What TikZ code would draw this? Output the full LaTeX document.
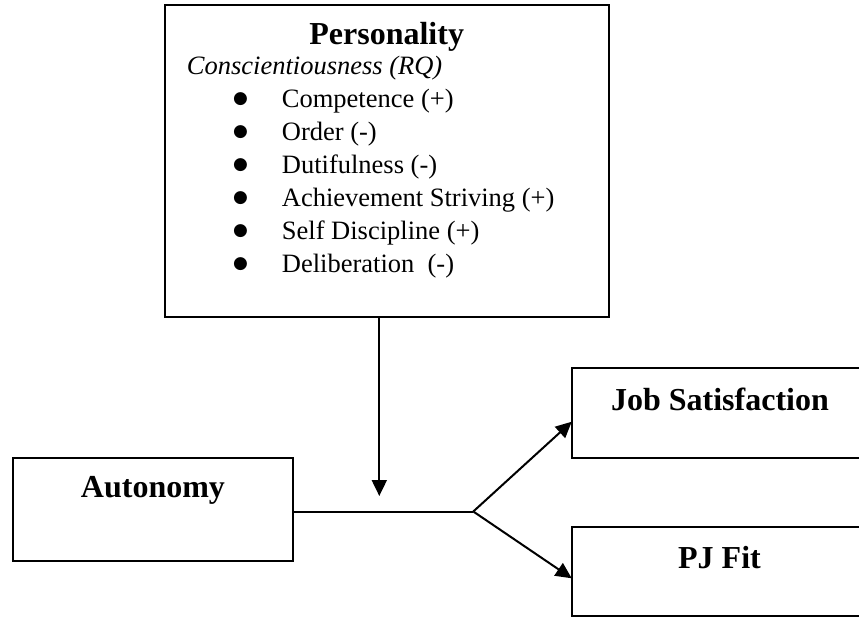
\documentclass[tikz,border=0pt]{standalone}
\usepackage{fontspec}
\setmainfont{Liberation Serif}
\newfontfamily\bulletfont{DejaVu Sans}
\usetikzlibrary{arrows.meta}
\begin{document}
\begin{tikzpicture}[x=1pt,y=-1pt,
  box/.style={draw, line width=2pt, inner sep=0pt, outer sep=0pt},
  conn/.style={line width=2pt},
  arr/.style={line width=2pt, -{Triangle[length=16pt,width=15pt]}},
  titletext/.style={inner sep=0pt, anchor=base, font=\fontsize{32}{38}\selectfont\bfseries},
  bodytext/.style={inner sep=0pt, anchor=base west, font=\fontsize{26.5}{33}\selectfont},
  bullettext/.style={inner sep=0pt, anchor=base, font=\bulletfont\fontsize{17}{20}\selectfont}
]
\useasboundingbox (0,0) rectangle (859,617);
\clip (0,0) rectangle (859,617);

% boxes
\node[box, minimum width=444pt, minimum height=312pt] (pers) at (386.7,160.7) {};
\node[box, minimum width=279.4pt, minimum height=103pt] (auto) at (153,509.2) {};
\node[box, minimum width=296.3pt, minimum height=89.4pt] (js) at (719.9,413) {};
\node[box, minimum width=296.3pt, minimum height=89pt] (pj) at (719.9,571.5) {};

% texts
\node[titletext] (perst) at (386.7,45) {Personality};
\node[bodytext, font=\fontsize{26.5}{33}\selectfont\itshape] (consc) at (186.7,75) {Conscientiousness (RQ)};
\foreach \i/\t [count=\k] in {108/Competence (+), 141/Order (-), 174/Dutifulness (-), 207/Achievement Striving (+), 240/Self Discipline (+), 273/Deliberation\ \ (-)}{
  \node[bullettext] (b\k) at (240.5,\i-4.4) {●};
  \node[bodytext] (t\k) at (281.7,\i) {\t};
}
\node[titletext] (autot) at (153,497.3) {Autonomy};
\node[titletext] (jst) at (720,410) {Job Satisfaction};
\node[titletext] (pjt) at (719.5,568) {PJ Fit};

% connectors
\coordinate (br) at (473.3,511.5);
\coordinate (tip) at (379.3,496);
\coordinate (jsin) at (571.7,421.7);
\coordinate (pjin) at (571.7,578.3);
\draw[arr] (pers.south -| tip) -- (tip);
\draw[conn] (auto.east |- br) -- (br);
\draw[arr] (br) -- (js.west |- jsin);
\draw[arr] (br) -- (pj.west |- pjin);
\end{tikzpicture}
\end{document}
